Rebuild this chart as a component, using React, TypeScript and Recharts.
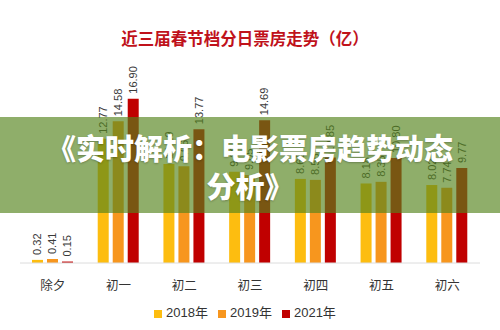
import { BarChart, Bar, XAxis, YAxis, Legend, LabelList } from "recharts";

const days = ["除夕", "初一", "初二", "初三", "初四", "初五", "初六"];
const y2018 = [0.32, 12.77, 10.19, 9.38, 8.65, 8.18, 8.02];
const y2019 = [0.41, 14.58, 9.96, 9.05, 8.55, 8.35, 7.74];
const y2021 = [0.15, 16.9, 13.77, 14.69, 10.85, 10.8, 9.77];

const series = [
  { key: "y2018", name: "2018年", color: "#fdbd10" },
  { key: "y2019", name: "2019年", color: "#f7961e" },
  { key: "y2021", name: "2021年", color: "#c00000" },
];

const data = days.map((d, i) => ({ name: d, y2018: y2018[i], y2019: y2019[i], y2021: y2021[i] }));

const font = "'Liberation Sans', 'Noto Sans CJK SC', sans-serif";

const VLabel = (props: any) => {
  const { x, y, width, value } = props;
  const cx = x + width / 2;
  const ty = y - 5;
  return (
    <text x={cx} y={ty} transform={`rotate(-90 ${cx} ${ty})`} dy="0.35em" fontSize={11} fill="#3a3a3a" fontFamily={font} textAnchor="start">
      {Number(value).toFixed(2)}
    </text>
  );
};

export default function App() {
  return (
    <div style={{ position: "fixed", left: 0, top: 0, width: 500, height: 330, background: "#fff", overflow: "hidden" }}>
      <div style={{ position: "absolute", top: 27, left: 0, width: 490, textAlign: "center", color: "#c0121b", fontWeight: 700, fontSize: 16.5, fontFamily: "'Noto Sans CJK SC', sans-serif", lineHeight: "22px" }}>
        近三届春节档分日票房走势（亿）
      </div>
      <BarChart width={500} height={330} data={data} margin={{ top: 88, left: 20, right: 20, bottom: 20 }} barSize={11} barGap={4}>
        <XAxis dataKey="name" axisLine={{ stroke: "#dcdcdc" }} tickLine={false} tickMargin={12} height={28}
          tick={{ fontSize: 12.5, fill: "#333", fontFamily: "'Noto Sans CJK SC', sans-serif" }} />
        <YAxis hide domain={[0, 18]} />
        <Legend verticalAlign="bottom" iconType="square" iconSize={8}
          wrapperStyle={{ top: 302, fontSize: 13, fontFamily: font }}
          formatter={(v) => <span style={{ color: "#333" }}>{v}</span>} />
        {series.map((s) => (
          <Bar key={s.key} dataKey={s.key} name={s.name} fill={s.color} isAnimationActive={false}>
            <LabelList dataKey={s.key} content={VLabel} />
          </Bar>
        ))}
      </BarChart>
      <div style={{ position: "absolute", top: 117, left: 0, width: 500, height: 96, background: "rgba(84,131,27,0.655)", color: "#fff", fontWeight: 900, fontSize: 29, lineHeight: "38px", textAlign: "center", fontFamily: "'Noto Sans CJK SC', sans-serif", paddingTop: 11, boxSizing: "border-box", textShadow: "0 1px 2px rgba(0,0,0,0.25)" }}>
        《实时解析：电影票房趋势动态<br />分析》
      </div>
    </div>
  );
}
